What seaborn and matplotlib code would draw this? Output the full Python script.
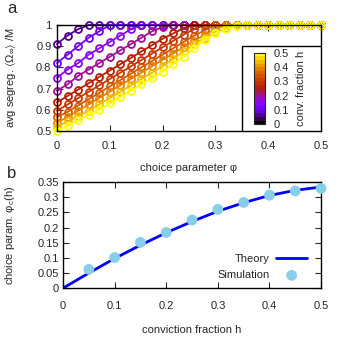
import numpy as np
import pandas as pd
import matplotlib
matplotlib.use('Agg')
import matplotlib.pyplot as plt
import seaborn as sns
from matplotlib.colors import ListedColormap, Normalize
from matplotlib.cm import ScalarMappable
from matplotlib.patches import Rectangle

# ---- data: panel a (avg segregation vs choice parameter, one curve per h) ----
phi = [round(0.02 * i, 2) for i in range(26)]
h_levels = [0.05, 0.1, 0.15, 0.2, 0.25, 0.3, 0.35, 0.4, 0.45, 0.5]
# rising part of each curve; after the last value the curve stays at 1
seg_h005 = [0.91, 0.95, 0.98]
seg_h010 = [0.82, 0.86, 0.90, 0.94, 0.97]
seg_h015 = [0.75, 0.79, 0.82, 0.86, 0.89, 0.92, 0.95, 0.98]
seg_h020 = [0.69, 0.72, 0.76, 0.79, 0.82, 0.85, 0.88, 0.91, 0.94, 0.97, 0.99]
seg_h025 = [0.635, 0.665, 0.695, 0.725, 0.755, 0.785, 0.815, 0.845, 0.875,
            0.905, 0.935, 0.96, 0.985]
seg_h030 = [0.595, 0.625, 0.655, 0.685, 0.715, 0.745, 0.775, 0.805, 0.835,
            0.865, 0.895, 0.925, 0.955, 0.98]
seg_h035 = [0.565, 0.59, 0.62, 0.65, 0.68, 0.71, 0.74, 0.77, 0.80, 0.83,
            0.86, 0.89, 0.92, 0.95, 0.975]
seg_h040 = [0.54, 0.565, 0.595, 0.625, 0.655, 0.685, 0.715, 0.745, 0.775,
            0.805, 0.835, 0.865, 0.895, 0.925, 0.955, 0.98]
seg_h045 = [0.52, 0.545, 0.57, 0.595, 0.625, 0.655, 0.685, 0.715, 0.745,
            0.775, 0.805, 0.84, 0.875, 0.91, 0.94, 0.965, 0.985]
seg_h050 = [0.50, 0.525, 0.55, 0.575, 0.60, 0.63, 0.66, 0.69, 0.72, 0.75,
            0.78, 0.815, 0.85, 0.89, 0.93, 0.96, 0.98, 0.995]
seg_curves = [seg_h005, seg_h010, seg_h015, seg_h020, seg_h025,
              seg_h030, seg_h035, seg_h040, seg_h045, seg_h050]

# ---- data: panel b ----
h_theory = [0, 0.05, 0.1, 0.15, 0.2, 0.25, 0.3, 0.35, 0.4, 0.45, 0.5]
phi_theory = [0, 0.05, 0.098, 0.142, 0.183, 0.22, 0.254, 0.282, 0.306, 0.323, 0.334]
h_sim = [0.05, 0.1, 0.15, 0.2, 0.25, 0.3, 0.35, 0.4, 0.45, 0.5]
phi_sim = [0.062, 0.101, 0.151, 0.184, 0.225, 0.26, 0.283, 0.307, 0.321, 0.329]

df_theory = pd.DataFrame({'h': h_theory, 'phi_c': phi_theory})
df_sim = pd.DataFrame({'h': h_sim, 'phi_c': phi_sim})

sns.set_style('ticks')
plt.rcParams['font.family'] = ['Liberation Sans', 'DejaVu Sans']
plt.rcParams['mathtext.default'] = 'regular'
plt.rcParams['font.size'] = 8

cmap = plt.get_cmap('gnuplot')

fig = plt.figure(figsize=(3.39, 3.39), dpi=100)
ax_a = fig.add_axes([0.168, 0.6136, 0.779, 0.3127])
ax_b = fig.add_axes([0.186, 0.150, 0.761, 0.3127])

for h, vals in zip(h_levels, seg_curves):
    full = vals + [1.0] * (len(phi) - len(vals))
    col = cmap(h / 0.5)
    sns.lineplot(x=phi, y=full, color=col, ax=ax_a, marker='o', markersize=5,
                 mfc='none', mec=col, mew=1.3, lw=1.3, clip_on=False)
ax_a.set_xlim(0, 0.5)
ax_a.set_ylim(0.5, 1.0)
ax_a.set_xticks([0, 0.1, 0.2, 0.3, 0.4, 0.5])
ax_a.set_yticks([0.5, 0.6, 0.7, 0.8, 0.9, 1.0])
ax_a.set_xticklabels(['0', '0.1', '0.2', '0.3', '0.4', '0.5'])
ax_a.set_yticklabels(['0.5', '0.6', '0.7', '0.8', '0.9', '1'])
ax_a.set_xlabel('choice parameter φ')
ax_a.set_ylabel(r'avg segreg. $\langle\Omega_{\infty}\rangle$ /M')
ax_a.xaxis.set_label_coords(0.5, -0.30)
ax_a.yaxis.set_label_coords(-0.148, 0.5)
ax_a.tick_params(direction='in', length=4, top=True, right=True, pad=7)
ax_a.tick_params(axis='y', pad=4)

# white box holding the colour bar
ax_a.add_patch(Rectangle((0.70, 0), 0.30, 0.805, transform=ax_a.transAxes,
                         facecolor='white', edgecolor='black', lw=1, zorder=5))
band_cmap = ListedColormap(cmap(np.linspace(0, 1, 20)))
cax = fig.add_axes([0.749, 0.634, 0.0325, 0.21])
cax.set_zorder(10)
cb = fig.colorbar(ScalarMappable(norm=Normalize(0, 0.5), cmap=band_cmap), cax=cax)
cb.set_ticks([0, 0.1, 0.2, 0.3, 0.4, 0.5])
cb.set_ticklabels(['0', '0.1', '0.2', '0.3', '0.4', '0.5'])
cb.ax.tick_params(direction='in', length=3, pad=6, width=0.8, color='black')
cb.outline.set_linewidth(0.8)
cb.set_label('conv. fraction h', labelpad=5)

sns.lineplot(data=df_theory, x='h', y='phi_c', color='#0000ff', lw=2, ax=ax_b,
             label='Theory')
sns.scatterplot(data=df_sim, x='h', y='phi_c', color='#87ceeb', s=60,
                edgecolor='none', ax=ax_b, label='Simulation', zorder=3,
                clip_on=False)
ax_b.set_xlim(0, 0.5)
ax_b.set_ylim(0, 0.35)
ax_b.set_xticks([0, 0.1, 0.2, 0.3, 0.4, 0.5])
ax_b.set_xticklabels(['0', '0.1', '0.2', '0.3', '0.4', '0.5'])
ax_b.set_yticks([0, 0.05, 0.1, 0.15, 0.2, 0.25, 0.3, 0.35])
ax_b.set_yticklabels(['0', '0.05', '0.1', '0.15', '0.2', '0.25', '0.3', '0.35'])
ax_b.set_xlabel('conviction fraction h')
ax_b.set_ylabel(r'choice param. $\varphi_c$(h)')
ax_b.xaxis.set_label_coords(0.5, -0.35)
ax_b.yaxis.set_label_coords(-0.178, 0.5)
ax_b.tick_params(direction='in', length=4, top=True, right=True, pad=9)
ax_b.tick_params(axis='y', pad=3)
ax_b.legend(loc='lower right', bbox_to_anchor=(0.985, -0.02), frameon=False,
            markerfirst=False, handlelength=2.8, labelspacing=0.55,
            handletextpad=0.6)

for ax in (ax_a, ax_b):
    for s in ax.spines.values():
        s.set_visible(True)
        s.set_linewidth(1)
        s.set_color('black')

fig.text(0.02, 0.962, 'a', fontsize=12, va='baseline')
fig.text(0.02, 0.475, 'b', fontsize=12, va='baseline')

fig.savefig('out.png', dpi=100)
